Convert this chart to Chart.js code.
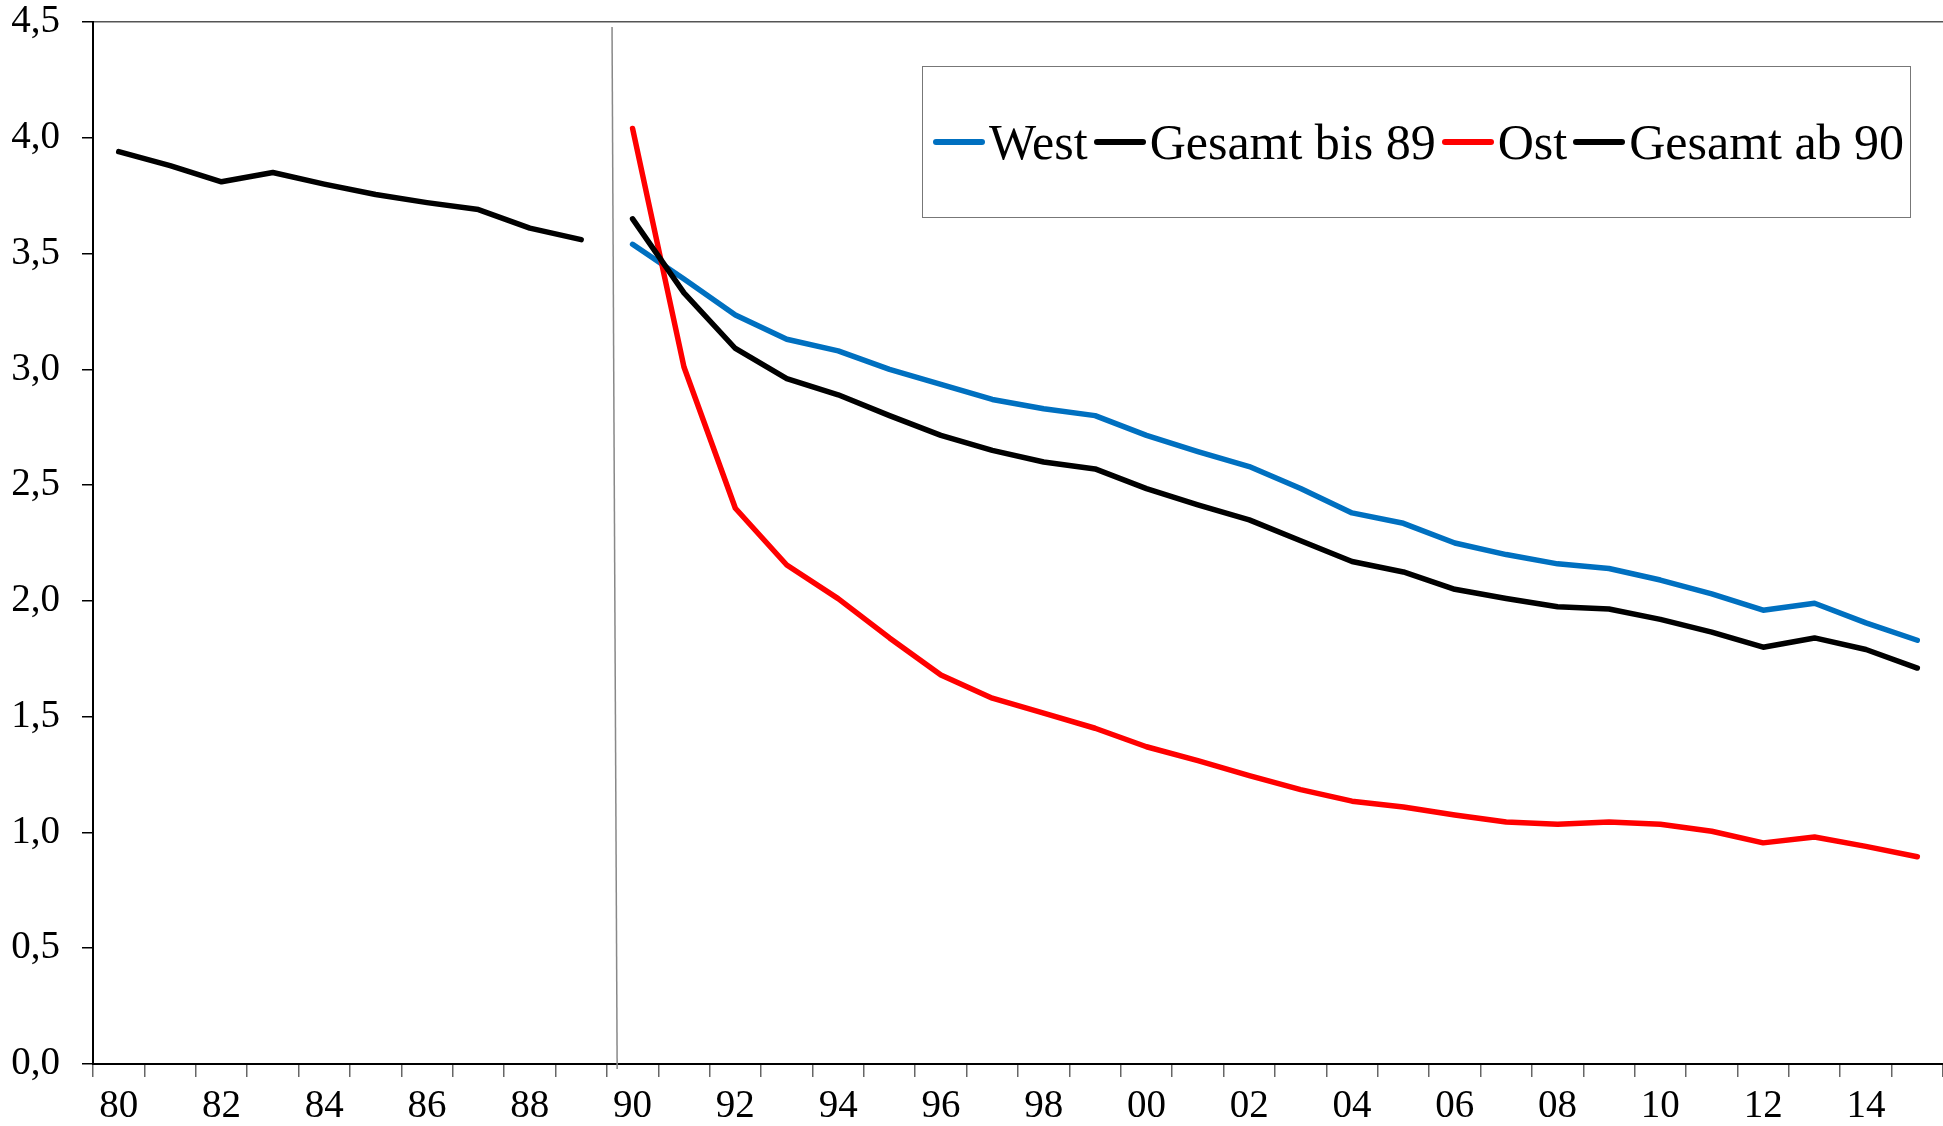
<!DOCTYPE html>
<html>
<head>
<meta charset="utf-8">
<script src="https://cdn.jsdelivr.net/npm/chart.js@4/dist/chart.umd.min.js"></script>
<style>
  body { margin: 0; background: #fff; }
  #wrap { position: relative; width: 1943px; height: 1126px; }
  #legend {
    position: absolute; left: 922px; top: 66px; width: 989px; height: 152px;
    border: 1.5px solid #777; display: flex; align-items: center; justify-content: center;
    font-family: "Liberation Serif", "Times New Roman", serif; font-size: 50px; color: #000;
    box-sizing: border-box; white-space: nowrap; padding-left: 10px;
  }
  #legend .item { display: flex; align-items: center; margin-right: 6px; }
  #legend .swatch { width: 52px; height: 6px; border-radius: 3px; margin-right: 4px; }
</style>
</head>
<body>
<div id="wrap">
  <canvas id="chart"></canvas>
  <div id="legend"></div>
</div>
<script>
// years 1980..2015, shown as two digits
const categories = ['80','81','82','83','84','85','86','87','88','89',
                    '90','91','92','93','94','95','96','97','98','99',
                    '00','01','02','03','04','05','06','07','08','09',
                    '10','11','12','13','14','15'];

const gesamtBis89 = [3.94, 3.88, 3.81, 3.85, 3.80, 3.755, 3.72, 3.69, 3.61, 3.56,
                     null, null, null, null, null, null, null, null, null, null,
                     null, null, null, null, null, null, null, null, null, null,
                     null, null, null, null, null, null];

const west = [null, null, null, null, null, null, null, null, null, null,
              3.54, 3.39, 3.235, 3.13, 3.08, 3.00, 2.935, 2.87, 2.83, 2.80,
              2.715, 2.645, 2.58, 2.485, 2.38, 2.335, 2.25, 2.20, 2.16, 2.14,
              2.09, 2.03, 1.96, 1.99, 1.905, 1.83];

const ost = [null, null, null, null, null, null, null, null, null, null,
             4.04, 3.01, 2.40, 2.155, 2.01, 1.84, 1.68, 1.58, 1.515, 1.45,
             1.37, 1.31, 1.245, 1.185, 1.135, 1.11, 1.075, 1.045, 1.035, 1.045,
             1.035, 1.005, 0.955, 0.98, 0.94, 0.895];

const gesamtAb90 = [null, null, null, null, null, null, null, null, null, null,
                    3.65, 3.33, 3.09, 2.96, 2.89, 2.80, 2.715, 2.65, 2.60, 2.57,
                    2.485, 2.415, 2.35, 2.26, 2.17, 2.125, 2.05, 2.01, 1.975, 1.965,
                    1.92, 1.865, 1.80, 1.84, 1.79, 1.71];

const seriesNames = ['West', 'Gesamt bis 89', 'Ost', 'Gesamt ab 90'];
const seriesColors = ['#0070C0', '#000000', '#FF0000', '#000000'];

const font = "'Liberation Serif', 'Times New Roman', serif";

// thin grey line between 89 and 90
const separator = {
  id: 'separator',
  afterDatasetsDraw(chart) {
    const x = chart.scales.x, y = chart.scales.y;
    const step = x.getPixelForValue(10) - x.getPixelForValue(9);
    const mid = (x.getPixelForValue(9) + x.getPixelForValue(10)) / 2;
    const ctx = chart.ctx;
    ctx.save();
    ctx.strokeStyle = '#888';
    ctx.lineWidth = 1.5;
    ctx.beginPath();
    ctx.moveTo(mid + step * 0.1, y.top + 5);
    ctx.lineTo(mid + step * 0.2, y.bottom + 5);
    ctx.stroke();
    ctx.restore();
  }
};

function makeSet(i, data) {
  return {
    label: seriesNames[i],
    data: data,
    borderColor: seriesColors[i],
    backgroundColor: seriesColors[i],
    borderWidth: 5.5,
    pointRadius: 0,
    borderCapStyle: 'round',
    borderJoinStyle: 'round',
    spanGaps: false,
    tension: 0
  };
}

const chart = new Chart(document.getElementById('chart'), {
  type: 'line',
  data: {
    labels: categories,
    datasets: [
      makeSet(3, gesamtAb90),
      makeSet(2, ost),
      makeSet(1, gesamtBis89),
      makeSet(0, west)
    ]
  },
  options: {
    responsive: true,
    maintainAspectRatio: false,
    animation: false,
    layout: { padding: { top: 22, right: 0, left: 0, bottom: 0 } },
    plugins: {
      legend: { display: false },
      tooltip: { enabled: false }
    },
    scales: {
      x: {
        type: 'category',
        offset: true,
        grid: {
          offset: true,
          drawOnChartArea: false,
          tickLength: 13,
          tickColor: '#666',
          lineWidth: 1.5
        },
        border: { color: '#000', width: 2 },
        ticks: {
          autoSkip: false,
          maxRotation: 0,
          padding: 6,
          color: '#000',
          font: { family: font, size: 39 },
          callback: function(val, i) { return i % 2 === 0 ? categories[i] : ''; }
        },
        afterFit(scale) {
          scale.height = 62;
          scale.paddingLeft = 0;
          scale.paddingRight = 0;
        }
      },
      y: {
        min: 0,
        max: 4.5,
        grid: {
          tickLength: 11,
          tickColor: '#000',
          color: (c) => (c.tick && c.tick.value === 4.5) ? '#555' : 'rgba(0,0,0,0)',
          lineWidth: 1.5
        },
        border: { color: '#000', width: 2 },
        ticks: {
          stepSize: 0.5,
          padding: 22,
          color: '#000',
          font: { family: font, size: 39 },
          callback: (v) => v.toFixed(1).replace('.', ',')
        },
        afterFit(scale) {
          scale.width = 93;
          scale.paddingTop = 0;
          scale.paddingBottom = 0;
        }
      }
    }
  },
  plugins: [separator]
});

// legend box, in the original order
const legendEl = document.getElementById('legend');
seriesNames.forEach((name, i) => {
  const item = document.createElement('div');
  item.className = 'item';
  const sw = document.createElement('div');
  sw.className = 'swatch';
  sw.style.background = seriesColors[i];
  const txt = document.createElement('span');
  txt.textContent = name;
  item.appendChild(sw);
  item.appendChild(txt);
  legendEl.appendChild(item);
});
</script>
</body>
</html>
